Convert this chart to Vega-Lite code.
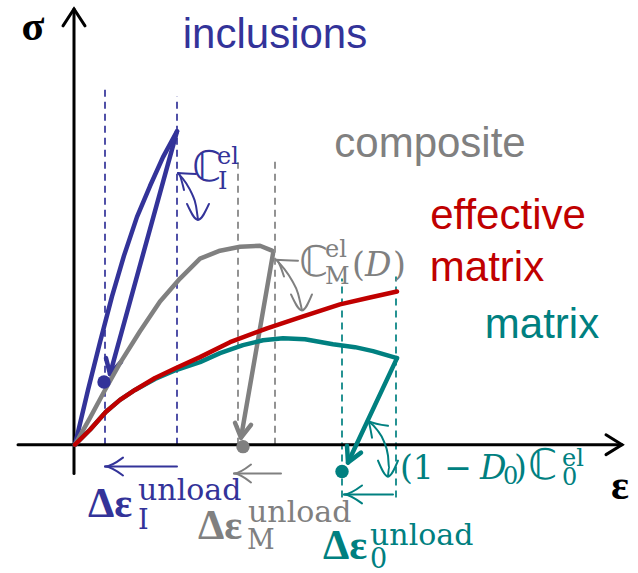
{
  "$schema": "https://vega.github.io/schema/vega-lite/v6.json",
  "width": 638,
  "height": 573,
  "autosize": {"type": "fit", "contains": "padding"},
  "padding": 0,
  "background": "white",
  "config": {"view": {"stroke": null}},
  "datasets": {
    "curves": [
      {"id": "bl", "who": "incl", "k": 0, "e": 0, "s": 0},
      {"id": "bl", "who": "incl", "k": 1, "e": 0.13, "s": 0.55},
      {"id": "bl", "who": "incl", "k": 2, "e": 0.25, "s": 1.03},
      {"id": "bl", "who": "incl", "k": 3, "e": 0.37, "s": 1.49},
      {"id": "bl", "who": "incl", "k": 4, "e": 0.49, "s": 1.90},
      {"id": "bl", "who": "incl", "k": 5, "e": 0.62, "s": 2.29},
      {"id": "bl", "who": "incl", "k": 6, "e": 0.75, "s": 2.60},
      {"id": "bl", "who": "incl", "k": 7, "e": 0.88, "s": 2.89},
      {"id": "bl", "who": "incl", "k": 8, "e": 1.02, "s": 3.15},
      {"id": "bu", "who": "incl", "k": 0, "e": 1.02, "s": 3.15},
      {"id": "bu", "who": "incl", "k": 1, "e": 0.35, "s": 0.71},
      {"id": "bh", "who": "incl", "k": 0, "e": 0.46, "s": 0.83},
      {"id": "bh", "who": "incl", "k": 1, "e": 0.35, "s": 0.71},
      {"id": "bh", "who": "incl", "k": 2, "e": 0.31, "s": 0.87},
      {"id": "gl", "who": "comp", "k": 0, "e": 0, "s": 0},
      {"id": "gl", "who": "comp", "k": 1, "e": 0.15, "s": 0.27},
      {"id": "gl", "who": "comp", "k": 2, "e": 0.30, "s": 0.55},
      {"id": "gl", "who": "comp", "k": 3, "e": 0.45, "s": 0.82},
      {"id": "gl", "who": "comp", "k": 4, "e": 0.65, "s": 1.14},
      {"id": "gl", "who": "comp", "k": 5, "e": 0.85, "s": 1.44},
      {"id": "gl", "who": "comp", "k": 6, "e": 1.05, "s": 1.67},
      {"id": "gl", "who": "comp", "k": 7, "e": 1.25, "s": 1.87},
      {"id": "gl", "who": "comp", "k": 8, "e": 1.45, "s": 1.95},
      {"id": "gl", "who": "comp", "k": 9, "e": 1.65, "s": 1.99},
      {"id": "gl", "who": "comp", "k": 10, "e": 1.85, "s": 2.00},
      {"id": "gl", "who": "comp", "k": 11, "e": 1.97, "s": 1.95},
      {"id": "gu", "who": "comp", "k": 0, "e": 1.98, "s": 1.92},
      {"id": "gu", "who": "comp", "k": 1, "e": 1.66, "s": 0.07},
      {"id": "gh", "who": "comp", "k": 0, "e": 1.76, "s": 0.20},
      {"id": "gh", "who": "comp", "k": 1, "e": 1.66, "s": 0.07},
      {"id": "gh", "who": "comp", "k": 2, "e": 1.60, "s": 0.22},
      {"id": "t", "who": "mat", "k": 0, "e": 0, "s": 0},
      {"id": "t", "who": "mat", "k": 1, "e": 0.15, "s": 0.15},
      {"id": "t", "who": "mat", "k": 2, "e": 0.31, "s": 0.33},
      {"id": "t", "who": "mat", "k": 3, "e": 0.45, "s": 0.45},
      {"id": "t", "who": "mat", "k": 4, "e": 0.60, "s": 0.55},
      {"id": "t", "who": "mat", "k": 5, "e": 0.80, "s": 0.66},
      {"id": "t", "who": "mat", "k": 6, "e": 1.01, "s": 0.75},
      {"id": "t", "who": "mat", "k": 7, "e": 1.25, "s": 0.83},
      {"id": "t", "who": "mat", "k": 8, "e": 1.45, "s": 0.92},
      {"id": "t", "who": "mat", "k": 9, "e": 1.68, "s": 1.00},
      {"id": "t", "who": "mat", "k": 10, "e": 1.88, "s": 1.05},
      {"id": "t", "who": "mat", "k": 11, "e": 2.08, "s": 1.07},
      {"id": "t", "who": "mat", "k": 12, "e": 2.30, "s": 1.06},
      {"id": "t", "who": "mat", "k": 13, "e": 2.58, "s": 1.01},
      {"id": "t", "who": "mat", "k": 14, "e": 2.80, "s": 0.98},
      {"id": "t", "who": "mat", "k": 15, "e": 2.98, "s": 0.94},
      {"id": "t", "who": "mat", "k": 16, "e": 3.22, "s": 0.87},
      {"id": "tu", "who": "mat", "k": 0, "e": 3.22, "s": 0.87},
      {"id": "tu", "who": "mat", "k": 1, "e": 2.73, "s": -0.18},
      {"id": "th", "who": "mat", "k": 0, "e": 2.86, "s": -0.08},
      {"id": "th", "who": "mat", "k": 1, "e": 2.73, "s": -0.18},
      {"id": "th", "who": "mat", "k": 2, "e": 2.72, "s": -0.01},
      {"id": "zr", "who": "eff", "k": 0, "e": 0, "s": 0},
      {"id": "zr", "who": "eff", "k": 1, "e": 0.15, "s": 0.15},
      {"id": "zr", "who": "eff", "k": 2, "e": 0.31, "s": 0.33},
      {"id": "zr", "who": "eff", "k": 3, "e": 0.45, "s": 0.45},
      {"id": "zr", "who": "eff", "k": 4, "e": 0.60, "s": 0.55},
      {"id": "zr", "who": "eff", "k": 5, "e": 0.80, "s": 0.67},
      {"id": "zr", "who": "eff", "k": 6, "e": 1.01, "s": 0.77},
      {"id": "zr", "who": "eff", "k": 7, "e": 1.25, "s": 0.88},
      {"id": "zr", "who": "eff", "k": 8, "e": 1.55, "s": 1.03},
      {"id": "zr", "who": "eff", "k": 9, "e": 1.92, "s": 1.17},
      {"id": "zr", "who": "eff", "k": 10, "e": 2.25, "s": 1.28},
      {"id": "zr", "who": "eff", "k": 11, "e": 2.65, "s": 1.41},
      {"id": "zr", "who": "eff", "k": 12, "e": 2.95, "s": 1.48},
      {"id": "zr", "who": "eff", "k": 13, "e": 3.22, "s": 1.54}
    ],
    "axes": [
      {"id": "xa", "who": "axis", "k": 0, "e": -0.57, "s": 0},
      {"id": "xa", "who": "axis", "k": 1, "e": 5.47, "s": 0},
      {"id": "xh", "who": "axis", "k": 0, "e": 5.31, "s": 0.10},
      {"id": "xh", "who": "axis", "k": 1, "e": 5.47, "s": 0},
      {"id": "xh", "who": "axis", "k": 2, "e": 5.31, "s": -0.10},
      {"id": "ya", "who": "axis", "k": 0, "e": -0.01, "s": -0.29},
      {"id": "ya", "who": "axis", "k": 1, "e": -0.01, "s": 4.38},
      {"id": "yh", "who": "axis", "k": 0, "e": -0.12, "s": 4.21},
      {"id": "yh", "who": "axis", "k": 1, "e": -0.01, "s": 4.38},
      {"id": "yh", "who": "axis", "k": 2, "e": 0.10, "s": 4.21}
    ],
    "markers": [
      {"id": "ba", "who": "incl", "k": 0, "e": 1.02, "s": -0.22},
      {"id": "ba", "who": "incl", "k": 1, "e": 0.30, "s": -0.22},
      {"id": "bah", "who": "incl", "k": 0, "e": 0.48, "s": -0.13},
      {"id": "bah", "who": "incl", "k": 1, "e": 0.30, "s": -0.22},
      {"id": "bah", "who": "incl", "k": 2, "e": 0.48, "s": -0.31},
      {"id": "ga", "who": "comp", "k": 0, "e": 2.06, "s": -0.29},
      {"id": "ga", "who": "comp", "k": 1, "e": 1.59, "s": -0.29},
      {"id": "gah", "who": "comp", "k": 0, "e": 1.76, "s": -0.20},
      {"id": "gah", "who": "comp", "k": 1, "e": 1.59, "s": -0.29},
      {"id": "gah", "who": "comp", "k": 2, "e": 1.76, "s": -0.38},
      {"id": "ta", "who": "mat", "k": 0, "e": 3.18, "s": -0.50},
      {"id": "ta", "who": "mat", "k": 1, "e": 2.69, "s": -0.50},
      {"id": "tah", "who": "mat", "k": 0, "e": 2.87, "s": -0.41},
      {"id": "tah", "who": "mat", "k": 1, "e": 2.69, "s": -0.50},
      {"id": "tah", "who": "mat", "k": 2, "e": 2.87, "s": -0.59},
      {"id": "bc1", "who": "incl", "k": 0, "e": 1.21, "s": 2.72},
      {"id": "bc1", "who": "incl", "k": 1, "e": 1.03, "s": 2.73},
      {"id": "bc1", "who": "incl", "k": 2, "e": 1.09, "s": 2.56},
      {"id": "bc2", "who": "incl", "k": 0, "e": 1.03, "s": 2.73},
      {"id": "bc2", "who": "incl", "k": 1, "e": 1.11, "s": 2.63},
      {"id": "bc2", "who": "incl", "k": 2, "e": 1.17, "s": 2.52},
      {"id": "bc2", "who": "incl", "k": 3, "e": 1.21, "s": 2.40},
      {"id": "bc2", "who": "incl", "k": 4, "e": 1.23, "s": 2.26},
      {"id": "bc3", "who": "incl", "k": 0, "e": 1.12, "s": 2.42},
      {"id": "bc3", "who": "incl", "k": 1, "e": 1.23, "s": 2.26},
      {"id": "bc3", "who": "incl", "k": 2, "e": 1.34, "s": 2.42},
      {"id": "gc1", "who": "comp", "k": 0, "e": 2.23, "s": 1.85},
      {"id": "gc1", "who": "comp", "k": 1, "e": 2.01, "s": 1.86},
      {"id": "gc1", "who": "comp", "k": 2, "e": 2.09, "s": 1.69},
      {"id": "gc2", "who": "comp", "k": 0, "e": 2.01, "s": 1.86},
      {"id": "gc2", "who": "comp", "k": 1, "e": 2.09, "s": 1.77},
      {"id": "gc2", "who": "comp", "k": 2, "e": 2.17, "s": 1.65},
      {"id": "gc2", "who": "comp", "k": 3, "e": 2.23, "s": 1.52},
      {"id": "gc2", "who": "comp", "k": 4, "e": 2.27, "s": 1.35},
      {"id": "gc3", "who": "comp", "k": 0, "e": 2.16, "s": 1.51},
      {"id": "gc3", "who": "comp", "k": 1, "e": 2.27, "s": 1.35},
      {"id": "gc3", "who": "comp", "k": 2, "e": 2.37, "s": 1.51},
      {"id": "tc1", "who": "mat", "k": 0, "e": 3.13, "s": 0.19},
      {"id": "tc1", "who": "mat", "k": 1, "e": 2.93, "s": 0.24},
      {"id": "tc1", "who": "mat", "k": 2, "e": 2.97, "s": 0.07},
      {"id": "tc2", "who": "mat", "k": 0, "e": 2.93, "s": 0.24},
      {"id": "tc2", "who": "mat", "k": 1, "e": 3.02, "s": 0.15},
      {"id": "tc2", "who": "mat", "k": 2, "e": 3.09, "s": 0.03},
      {"id": "tc2", "who": "mat", "k": 3, "e": 3.13, "s": -0.11},
      {"id": "tc2", "who": "mat", "k": 4, "e": 3.14, "s": -0.23},
      {"id": "tc2", "who": "mat", "k": 5, "e": 3.13, "s": -0.32},
      {"id": "tc3", "who": "mat", "k": 0, "e": 3.03, "s": -0.16},
      {"id": "tc3", "who": "mat", "k": 1, "e": 3.13, "s": -0.32},
      {"id": "tc3", "who": "mat", "k": 2, "e": 3.23, "s": -0.16}
    ],
    "dashes": [
      {"who": "incl", "e": 0.30, "s0": 0, "s1": 3.57},
      {"who": "incl", "e": 1.02, "s0": 0, "s1": 3.50},
      {"who": "comp", "e": 1.63, "s0": 0, "s1": 2.84},
      {"who": "comp", "e": 2.00, "s0": 0, "s1": 2.85},
      {"who": "mat", "e": 2.67, "s0": -0.53, "s1": 1.67},
      {"who": "mat", "e": 3.21, "s0": -0.53, "s1": 1.69}
    ],
    "dots": [
      {"who": "incl", "e": 0.29, "s": 0.63},
      {"who": "comp", "e": 1.68, "s": -0.02},
      {"who": "mat", "e": 2.67, "s": -0.27}
    ],
    "names": [
      {"who": "incl", "t": "inclusions", "e": 2.00, "s": 3.99},
      {"who": "comp", "t": "composite", "e": 3.55, "s": 2.89},
      {"who": "eff", "t": "effective", "e": 4.33, "s": 2.17},
      {"who": "eff", "t": "matrix", "e": 4.12, "s": 1.65},
      {"who": "mat", "t": "matrix", "e": 4.67, "s": 1.07}
    ],
    "axisNames": [
      {"who": "axis", "t": "σ", "e": -0.42, "s": 4.07},
      {"who": "axis", "t": "ε", "e": 5.45, "s": -0.55}
    ],
    "doubleC": [
      {"who": "incl", "t": "ℂ", "e": 1.17, "s": 2.65},
      {"who": "comp", "t": "ℂ", "e": 2.24, "s": 1.70},
      {"who": "mat", "t": "ℂ", "e": 4.53, "s": -0.35}
    ],
    "mathMain": [
      {"who": "comp", "t": "(", "e": 2.77, "s": 1.70},
      {"who": "comp", "t": ")", "e": 3.18, "s": 1.70},
      {"who": "mat", "t": "(1 −", "e": 3.25, "s": -0.35},
      {"who": "mat", "t": ")", "e": 4.39, "s": -0.35}
    ],
    "mathItalic": [
      {"who": "comp", "t": "D", "e": 2.90, "s": 1.70},
      {"who": "mat", "t": "D", "e": 4.05, "s": -0.35}
    ],
    "mathScripts": [
      {"who": "incl", "t": "el", "e": 1.42, "s": 2.82},
      {"who": "incl", "t": "I", "e": 1.43, "s": 2.57},
      {"who": "comp", "t": "el", "e": 2.50, "s": 1.89},
      {"who": "comp", "t": "M", "e": 2.50, "s": 1.62},
      {"who": "mat", "t": "0", "e": 4.28, "s": -0.40},
      {"who": "mat", "t": "0", "e": 4.87, "s": -0.41},
      {"who": "mat", "t": "el", "e": 4.87, "s": -0.21}
    ],
    "deltas": [
      {"who": "incl", "t": "Δε", "e": 0.13, "s": -0.73},
      {"who": "comp", "t": "Δε", "e": 1.23, "s": -0.95},
      {"who": "mat", "t": "Δε", "e": 2.48, "s": -1.15}
    ],
    "unloads": [
      {"who": "incl", "t": "unload", "e": 0.63, "s": -0.56},
      {"who": "comp", "t": "unload", "e": 1.73, "s": -0.78},
      {"who": "mat", "t": "unload", "e": 2.95, "s": -1.01}
    ],
    "deltaSubs": [
      {"who": "incl", "t": "I", "e": 0.63, "s": -0.85},
      {"who": "comp", "t": "M", "e": 1.72, "s": -1.05},
      {"who": "mat", "t": "0", "e": 2.95, "s": -1.24}
    ]
  },
  "encoding": {
    "x": {"field": "e", "type": "quantitative", "scale": {"domain": [-0.75, 5.63], "nice": false, "zero": false}, "axis": null},
    "y": {"field": "s", "type": "quantitative", "scale": {"domain": [-1.26, 4.47], "nice": false, "zero": false}, "axis": null},
    "color": {"field": "who", "type": "nominal", "scale": {"domain": ["axis", "incl", "comp", "eff", "mat"], "range": ["#000000", "#333399", "#808080", "#C00000", "#008080"]}, "legend": null}
  },
  "layer": [
    {
      "data": {"name": "dashes"},
      "mark": {"type": "rule", "strokeWidth": 1.7, "strokeDash": [7, 5]},
      "encoding": {
        "y": {"field": "s0", "type": "quantitative"},
        "y2": {"field": "s1"}
      }
    },
    {
      "data": {"name": "axes"},
      "mark": {"type": "line", "strokeWidth": 3, "strokeCap": "round", "strokeJoin": "miter"},
      "encoding": {"detail": {"field": "id"}, "order": {"field": "k", "type": "quantitative"}}
    },
    {
      "data": {"name": "markers"},
      "mark": {"type": "line", "strokeWidth": 2, "strokeCap": "round", "strokeJoin": "round", "interpolate": "monotone"},
      "encoding": {"detail": {"field": "id"}, "order": {"field": "k", "type": "quantitative"}}
    },
    {
      "data": {"name": "curves"},
      "mark": {"type": "line", "strokeWidth": 4.5, "strokeCap": "round", "strokeJoin": "round"},
      "encoding": {"detail": {"field": "id"}, "order": {"field": "k", "type": "quantitative"}}
    },
    {
      "data": {"name": "dots"},
      "mark": {"type": "circle", "size": 180, "opacity": 1}
    },
    {
      "data": {"name": "names"},
      "mark": {"type": "text", "font": "Liberation Sans", "fontSize": 42, "align": "center", "baseline": "alphabetic"},
      "encoding": {"text": {"field": "t"}}
    },
    {
      "data": {"name": "axisNames"},
      "mark": {"type": "text", "font": "Liberation Serif", "fontSize": 42, "fontWeight": "bold", "align": "center", "baseline": "alphabetic"},
      "encoding": {"text": {"field": "t"}}
    },
    {
      "data": {"name": "doubleC"},
      "mark": {"type": "text", "font": "DejaVu Sans", "fontSize": 42, "align": "left", "baseline": "alphabetic"},
      "encoding": {"text": {"field": "t"}}
    },
    {
      "data": {"name": "mathMain"},
      "mark": {"type": "text", "font": "DejaVu Serif", "fontSize": 33, "align": "left", "baseline": "alphabetic"},
      "encoding": {"text": {"field": "t"}}
    },
    {
      "data": {"name": "mathItalic"},
      "mark": {"type": "text", "font": "DejaVu Serif", "fontSize": 33, "fontStyle": "italic", "align": "left", "baseline": "alphabetic"},
      "encoding": {"text": {"field": "t"}}
    },
    {
      "data": {"name": "mathScripts"},
      "mark": {"type": "text", "font": "DejaVu Serif", "fontSize": 24, "align": "left", "baseline": "alphabetic"},
      "encoding": {"text": {"field": "t"}}
    },
    {
      "data": {"name": "deltas"},
      "mark": {"type": "text", "font": "Liberation Serif", "fontSize": 42, "fontWeight": "bold", "align": "left", "baseline": "alphabetic"},
      "encoding": {"text": {"field": "t"}}
    },
    {
      "data": {"name": "unloads"},
      "mark": {"type": "text", "font": "DejaVu Serif", "fontSize": 30, "align": "left", "baseline": "alphabetic"},
      "encoding": {"text": {"field": "t"}}
    },
    {
      "data": {"name": "deltaSubs"},
      "mark": {"type": "text", "font": "DejaVu Serif", "fontSize": 27, "align": "left", "baseline": "alphabetic"},
      "encoding": {"text": {"field": "t"}}
    }
  ]
}
